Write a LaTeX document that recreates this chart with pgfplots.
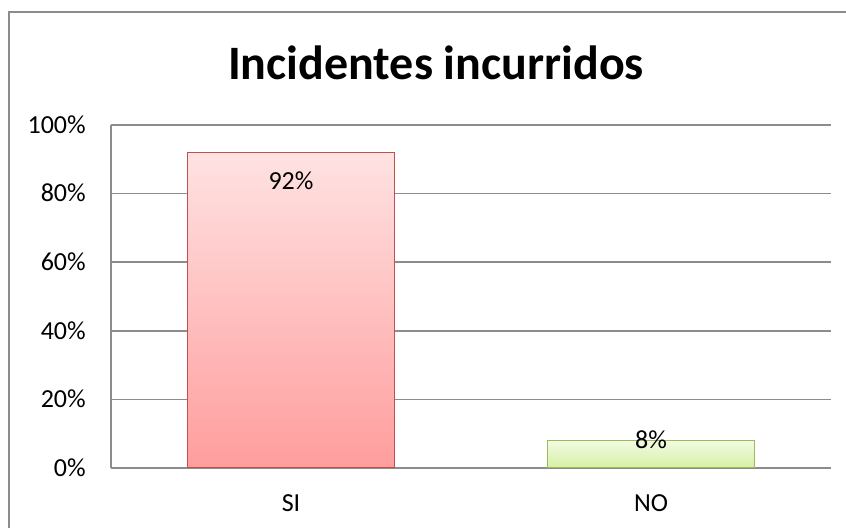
\documentclass[border=0pt]{standalone}
\usepackage{pgfplots}
\pgfplotsset{compat=1.18}
\usepackage{fontspec}
\setmainfont{Carlito}
\definecolor{gridc}{HTML}{8C8C8C}
\definecolor{siTop}{HTML}{FFE2E2}
\definecolor{siBot}{HTML}{FF9D9D}
\definecolor{siEdge}{HTML}{C0504D}
\definecolor{noTop}{HTML}{F2FBE3}
\definecolor{noBot}{HTML}{D6F0A4}
\definecolor{noEdge}{HTML}{9BBB59}
\begin{document}
\begin{tikzpicture}
\path[use as bounding box] (0,0) rectangle (634.5pt,396pt);
\draw[gridc, line width=1.2pt] (6.75pt,0pt) -- (6.75pt,387pt) -- (634.5pt,387pt);
\node[anchor=base, inner sep=0pt, font=\fontsize{36}{40}\selectfont\bfseries] at (327pt,336pt) {Incidentes incurridos};
\begin{axis}[
  at={(83.25pt,45pt)}, anchor=south west,
  scale only axis, width=540pt, height=257.25pt,
  xmin=-0.5, xmax=1.5, ymin=0, ymax=100,
  xtick={0,1}, xticklabels={SI,NO},
  ytick={0,20,40,60,80,100},
  yticklabel={\pgfmathprintnumber{\tick}\%},
  /pgf/number format/assume math mode=true,
  tick label style={font=\fontsize{19.5}{22}\selectfont, black},
  yticklabel style={anchor=base east, inner sep=0pt, xshift=-18.75pt, yshift=-6.3pt},
  xticklabel style={anchor=base, inner sep=0pt, yshift=-32.5pt},
  major tick length=0pt,
  ymajorgrids, grid style={gridc, line width=1.1pt},
  axis x line*=bottom, axis y line*=left,
  axis line style={gridc, line width=1.1pt, -},
  ybar, bar width=155.25pt, bar shift=0pt,
  nodes near coords={\pgfmathprintnumber{\pgfplotspointmeta}\%},
  nodes near coords style={font=\fontsize{19.5}{22}\selectfont, black, anchor=base, inner sep=0pt},
]
\addplot[draw=siEdge, line width=1.1pt, top color=siTop, bottom color=siBot,
  nodes near coords style={yshift=-27.75pt}] coordinates {(0,92)};
\addplot[draw=noEdge, line width=1.1pt, top color=noTop, bottom color=noBot,
  nodes near coords style={yshift=-6pt}] coordinates {(1,8)};
\end{axis}
\end{tikzpicture}
\end{document}
